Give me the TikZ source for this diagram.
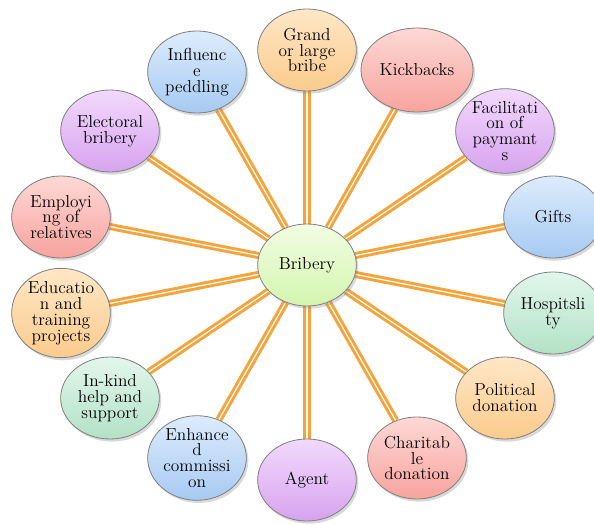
\documentclass[tikz,border=0pt]{standalone}
\usepackage{tikz}
\usetikzlibrary{shapes.geometric,shadows,backgrounds}

\definecolor{linkorange}{HTML}{F7A339}
\definecolor{rim}{HTML}{7F7F7F}

\tikzset{
  ball/.style={ellipse, draw=rim, line width=0.6pt, align=center,
    minimum width=74pt, minimum height=61.5pt, inner sep=0pt,
    text=black, font=\fontsize{13}{11.9}\selectfont,
    drop shadow={opacity=0.3, shadow xshift=1.5pt, shadow yshift=-2pt}},
  blueball/.style={ball, top color={rgb,255:red,221;green,236;blue,252}, bottom color={rgb,255:red,166;green,202;blue,242}},
  orangeball/.style={ball, top color={rgb,255:red,254;green,231;blue,199}, bottom color={rgb,255:red,251;green,203;blue,140}},
  redball/.style={ball, top color={rgb,255:red,253;green,216;blue,213}, bottom color={rgb,255:red,248;green,163;blue,158}},
  purpleball/.style={ball, top color={rgb,255:red,242;green,217;blue,252}, bottom color={rgb,255:red,215;green,163;blue,239}},
  greenball/.style={ball, top color={rgb,255:red,226;green,246;blue,236}, bottom color={rgb,255:red,179;green,226;blue,198}},
  hubball/.style={ball, top color={rgb,255:red,242;green,253;blue,227}, bottom color={rgb,255:red,212;green,245;blue,174}},
  link/.style={draw=linkorange, line width=2.2pt, double=white, double distance=0.9pt}
}

\begin{document}
\begin{tikzpicture}[x=0.75pt,y=0.75pt]
    \useasboundingbox (0,0) rectangle (594,525);

    % Centro
    \node[hubball] (bribery) at (307,260) {Bribery};

    % Lado direito
    \node[orangeball] (grand) at (307,475) {Grand\\or large\\bribe};
    \node[redball, minimum width=84pt, minimum height=63pt] (kickbacks) at (417,455) {Kickbacks};
    \node[purpleball] (facil) at (505,394) {Facilitati\\on of\\paymant\\s};
    \node[blueball] (gifts) at (553,308) {Gifts};
    \node[greenball] (hosp) at (553,212) {Hospitsli\\ty};
    \node[orangeball] (political) at (505,127) {Political\\donation};
    \node[redball] (charit) at (417,67) {Charitab\\le\\donation};
    \node[purpleball] (agent) at (307,45) {Agent};

    % Lado esquerdo
    \node[blueball] (enhanced) at (197,67) {Enhance\\d\\commissi\\on};
    \node[greenball] (inkind) at (110,127) {In-kind\\help and\\support};
    \node[orangeball] (educ) at (61,212) {Educatio\\n and\\training\\projects};
    \node[redball] (employ) at (61,308) {Employi\\ng of\\relatives};
    \node[purpleball] (electoral) at (110,394) {Electoral\\bribery};
    \node[blueball] (influence) at (197,453) {Influenc\\e\\peddling};

    % Ligacoes
    \begin{scope}[on background layer]
        \draw[link] (bribery) -- (grand);
        \draw[link] (bribery) -- (kickbacks);
        \draw[link] (bribery) -- (facil);
        \draw[link] (bribery) -- (gifts);
        \draw[link] (bribery) -- (hosp);
        \draw[link] (bribery) -- (political);
        \draw[link] (bribery) -- (charit);
        \draw[link] (bribery) -- (agent);
        \draw[link] (bribery) -- (enhanced);
        \draw[link] (bribery) -- (inkind);
        \draw[link] (bribery) -- (educ);
        \draw[link] (bribery) -- (employ);
        \draw[link] (bribery) -- (electoral);
        \draw[link] (bribery) -- (influence);
    \end{scope}
\end{tikzpicture}
\end{document}
